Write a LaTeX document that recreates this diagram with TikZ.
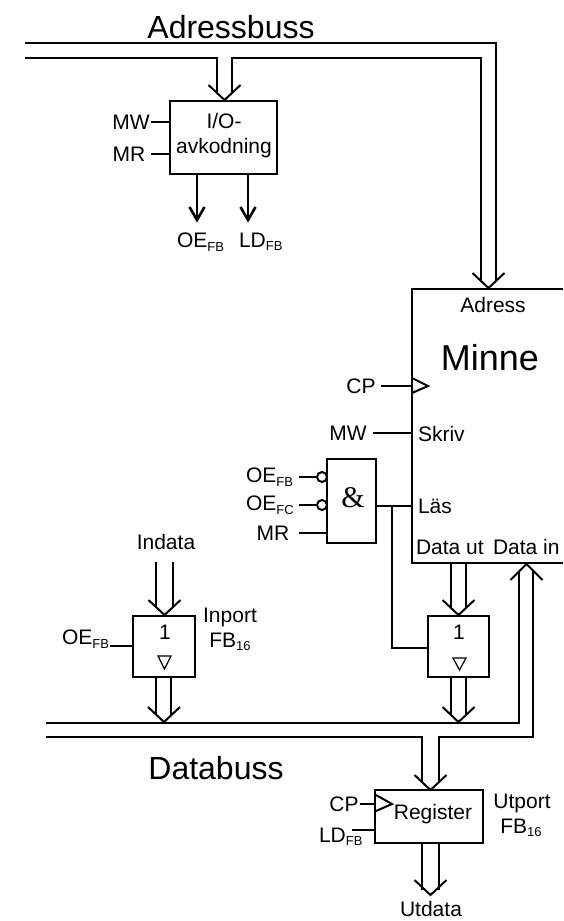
\documentclass[tikz,border=0pt]{standalone}
\usepackage{fontspec}
\setmainfont{Liberation Sans}
\newfontfamily\serifamp{Liberation Serif}
\usetikzlibrary{calc}
\newcommand{\sublab}[2]{#1{\fontsize{13}{13}\selectfont\raisebox{-3.5pt}{#2}}}
\tikzset{
  x=1pt,y=-1pt,
  every node/.style={inner sep=0pt,outer sep=0pt,font=\fontsize{21}{25}\selectfont},
  thickbox/.style={draw,line width=2.8pt},
  thinbox/.style={draw,line width=2pt},
  openbox/.style={draw=none},
  wire/.style={line width=2pt},
  bus/.style={line width=2pt,line join=miter},
  head/.style={line width=2pt,line join=miter,line cap=butt},
  ctl/.style={line width=2.6pt,line join=miter},
}
\newcommand{\mkbox}[6]{% name,x1,y1,x2,y2,style
  \node[#6,rectangle,minimum width={(#4-#2)*1pt},minimum height={(#5-#3)*1pt},anchor=north west] (#1) at (#2,#3) {};}
\newcommand{\headdown}[2]{\draw[head] (#1-16,#2-15) -- (#1,#2) -- (#1+16,#2-15);}
\newcommand{\headup}[2]{\draw[head] (#1-16,#2+16) -- (#1,#2) -- (#1+16,#2+16);}
\begin{document}
\begin{tikzpicture}
\useasboundingbox (0,0) rectangle (563,921);
% boxes
\mkbox{io}{170}{101}{277}{174}{thickbox}
\mkbox{minne}{412}{289}{563}{563}{openbox}
\draw[line width=2.8pt,line join=miter] (minne.north east) -- (minne.north west) -- (minne.south west) -- (minne.south east);
\mkbox{andg}{327}{459}{376}{543}{thinbox}
\mkbox{inbuf}{133}{616}{195}{677}{thickbox}
\mkbox{outbuf}{428}{616}{489}{677}{thickbox}
\mkbox{reg}{375}{790}{483}{843}{thickbox}
% texts
\node[font=\fontsize{32}{36}\selectfont] (tadr) at (231,27) {Adressbuss};
\node[font=\fontsize{32}{36}\selectfont] (tdat) at (216,768) {Databuss};
\node[align=center,font=\fontsize{21}{25.5}\selectfont] (tio) at (224,135.5) {I/O-\\avkodning};
\node (mw1) at (131,122) {MW};
\node (mr1) at (129,154) {MR};
\node[anchor=west] (oe1) at (177,242) {\sublab{OE}{FB}};
\node[anchor=west] (ld1) at (239,242) {\sublab{LD}{FB}};
\node (tadress) at (493,305) {Adress};
\node[font=\fontsize{36}{40}\selectfont] (tminne) at (490,358) {Minne};
\node (cp1) at (361,386) {CP};
\node (mw2) at (348,433) {MW};
\node[anchor=west] (tskriv) at (418,434) {Skriv};
\node[anchor=west] (oe2) at (246,477) {\sublab{OE}{FB}};
\node[anchor=west] (oe3) at (246,505) {\sublab{OE}{FC}};
\node (mr2) at (273,533) {MR};
\node[font=\fontsize{30}{30}\selectfont\serifamp] (tamp) at (353,498) {\&};
\node[anchor=west] (tlas) at (418,506) {Läs};
\node[anchor=west] (tut) at (416,547) {Data ut};
\node[anchor=west] (tin) at (493,547) {Data in};
\node (tindata) at (166,542) {Indata};
\node (tinp) at (230,617) {Inport};
\node (tfb1) at (230,642) {\sublab{FB}{16}};
\node[anchor=west] (oe4) at (62,639) {\sublab{OE}{FB}};
\node (one1) at (165,632) {1};
\node (one2) at (459,632) {1};
\node (treg) at (433,814) {Register};
\node (cp2) at (344,804) {CP};
\node[anchor=west] (ld2) at (319,837) {\sublab{LD}{FB}};
\node (tutp) at (522,803) {Utport};
\node (tfb2) at (521,828) {\sublab{FB}{16}};
\node (tutd) at (431,909) {Utdata};
% free ends of the buses
\coordinate (a1) at (25,43);
\coordinate (a2) at (25,58);
\coordinate (d1) at (46,723);
\coordinate (d2) at (46,737);
% address bus
\draw[bus] (a1) -- (496,43) -- (496,282);
\draw[bus] (a2) -- (217,58) -- (217,93);
\draw[bus] (232,93) -- (232,58) -- (481,58) -- (481,282);
\headdown{224.5}{100}
\headdown{488.5}{288}
% I/O controls
\coordinate (mw1e) at (151,122);
\coordinate (mr1e) at (151,154);
\draw[wire] (mw1e) -- (mw1e -| io.west);
\draw[wire] (mr1e) -- (mr1e -| io.west);
\coordinate (o1) at (197,218);
\coordinate (l1) at (248,218);
\draw[ctl] (o1 |- io.south) -- (o1);
\draw[ctl] (l1 |- io.south) -- (l1);
\draw[ctl] (189.5,207) -- (197,220) -- (204.5,207);
\draw[ctl] (240.5,207) -- (248,220) -- (255.5,207);
% memory controls
\coordinate (cp1e) at (381,386);
\coordinate (mw2e) at (373,433);
\draw[wire] (cp1e) -- (cp1e -| minne.west);
\draw[wire] (mw2e) -- (mw2e -| minne.west);
\draw[wire,line join=miter] (412,378) -- (428,386) -- (412,393);
% AND gate
\coordinate (b1) at (322,477);
\coordinate (b2) at (322,505);
\draw[wire] (299,477) -- (b1);
\draw[wire] (299,505) -- (b2);
\draw[wire,fill=white] (b1) circle (5);
\draw[wire,fill=white] (b2) circle (5);
\coordinate (mr2e) at (299,533);
\draw[wire] (mr2e) -- (mr2e -| andg.west);
\coordinate (lasj) at (392,506);
\draw[wire] (376,506) -- (412,506);
\draw[wire] (lasj) -- (392,648) -- (428,648);
% memory out to output buffer
\draw[bus] (451,563) -- (451,608);
\draw[bus] (466,563) -- (466,608);
\headdown{458.5}{615}
% output buffer to data bus
\draw[bus] (451,677) -- (451,715);
\draw[bus] (466,677) -- (466,715);
\headdown{458.5}{722}
\draw[line width=1.2pt,line join=miter] (453,658) -- (466,658) -- (459.5,670) -- cycle;
% input buffer
\draw[bus] (156,562) -- (156,608);
\draw[bus] (173,562) -- (173,608);
\headdown{164.5}{615}
\draw[bus] (156,677) -- (156,715);
\draw[bus] (171,677) -- (171,715);
\headdown{164}{722}
\draw[line width=1.2pt,line join=miter] (158,656) -- (171,656) -- (164.5,669) -- cycle;
\coordinate (oe4e) at (110,646);
\draw[wire] (oe4e) -- (oe4e -| inbuf.west);
% data bus
\draw[bus] (d1) -- (519,723) -- (519,571);
\draw[bus] (d2) -- (422,737) -- (422,783);
\draw[bus] (439,783) -- (439,737) -- (533,737) -- (533,571);
\headup{526.5}{564}
\headdown{430.5}{790}
% register
\coordinate (cp2e) at (360,804);
\coordinate (ld2e) at (352,830);
\draw[wire] (cp2e) -- (cp2e -| reg.west);
\draw[wire] (ld2e) -- (ld2e -| reg.west);
\draw[wire,line join=miter] (376,795) -- (392,804) -- (376,811);
\draw[bus] (422,843) -- (422,890);
\draw[bus] (439,843) -- (439,890);
\headdown{430.5}{895}
\end{tikzpicture}
\end{document}
